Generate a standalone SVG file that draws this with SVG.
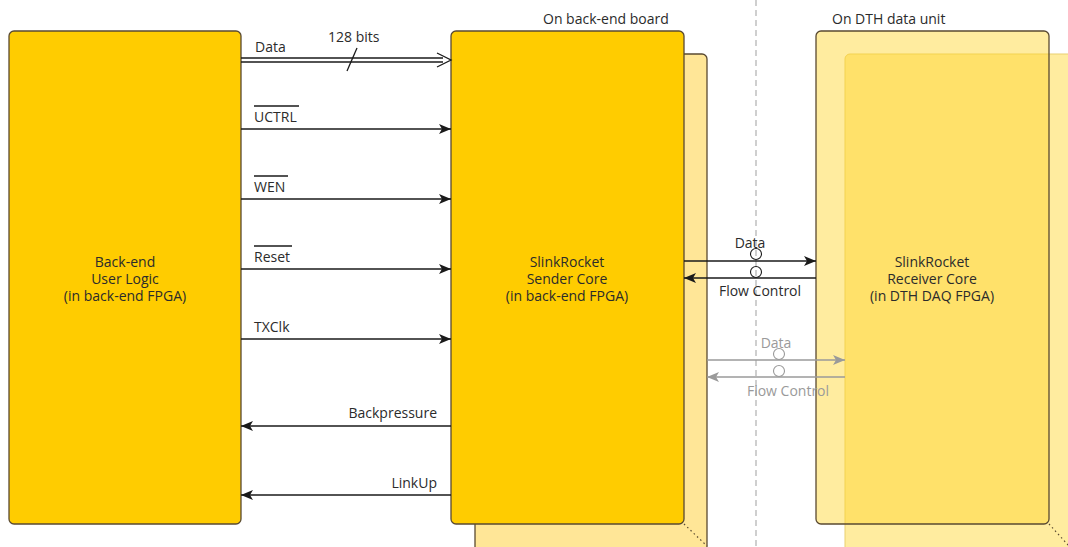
<svg xmlns="http://www.w3.org/2000/svg" width="1068" height="547" viewBox="0 0 1068 547">
<style>
text{font-family:"Open Sans","Noto Sans","DejaVu Sans",sans-serif;font-size:14px;fill:#2b2b2b}
.c{text-anchor:middle}
.r{text-anchor:end}
.g{fill:#9a9a9a}
.box{fill:#ffcc00;stroke:#5a4a32;stroke-width:1.3}
.back{fill:#ffe697;stroke:#5a4a32;stroke-width:1.3}
.tr{fill:#ffd42a;fill-opacity:0.45}
.ln{stroke:#1a1a1a;stroke-width:1.3;fill:none}
.gl{stroke:#9a9a9a;stroke-width:1.3;fill:none}
.dot{stroke:#5a4a32;stroke-width:1.2;stroke-dasharray:1.5 3;fill:none}
.ov{stroke:#1a1a1a;stroke-width:1.5}
</style>
<defs>
<marker id="ah" viewBox="0 0 12 10" refX="12" refY="5" markerWidth="12" markerHeight="10" markerUnits="userSpaceOnUse" orient="auto">
<path d="M0,0 L12,5 L0,10 L3,5 Z" fill="#1a1a1a"/>
</marker>
<marker id="ahg" viewBox="0 0 12 10" refX="12" refY="5" markerWidth="12" markerHeight="10" markerUnits="userSpaceOnUse" orient="auto">
<path d="M0,0 L12,5 L0,10 L3,5 Z" fill="#9a9a9a"/>
</marker>
</defs>

<line x1="756" y1="0" x2="756" y2="547" stroke="#b0b0b0" stroke-width="1.2" stroke-dasharray="6 4"/>

<text x="543" y="24">On back-end board</text>
<text x="832" y="24">On DTH data unit</text>

<g id="user-logic">
<rect class="box" x="9" y="31" width="232" height="493" rx="5"/>
<text class="c" x="125" y="267">Back-end</text>
<text class="c" x="125" y="284">User Logic</text>
<text class="c" x="125" y="301">(in back-end FPGA)</text>
</g>

<g id="sender-core">
<rect class="back" x="475" y="54" width="232" height="500" rx="5"/>
<line class="dot" x1="684" y1="524" x2="707" y2="546"/>
<rect class="box" x="451" y="31" width="233" height="493" rx="5"/>
<text class="c" x="567" y="267">SlinkRocket</text>
<text class="c" x="567" y="284">Sender Core</text>
<text class="c" x="567" y="301">(in back-end FPGA)</text>
</g>

<g id="receiver-core">
<rect class="tr" x="845" y="54" width="240" height="500" rx="5" stroke="#e9cf70" stroke-width="1"/>
<rect class="tr" x="816" y="31" width="233" height="493" rx="5" stroke="#5a4a32" stroke-width="1.3"/>
<line class="dot" x1="1049" y1="524" x2="1068" y2="545"/>
<text class="c" x="932" y="267">SlinkRocket</text>
<text class="c" x="932" y="284">Receiver Core</text>
<text class="c" x="932" y="301">(in DTH DAQ FPGA)</text>
</g>

<g id="connectors">
<line class="ln" x1="241" y1="58" x2="443" y2="58"/>
<line class="ln" x1="241" y1="62" x2="443" y2="62"/>
<path class="ln" d="M437,53 L451,60 L437,67" stroke-linejoin="miter"/>
<line class="ln" x1="347" y1="71" x2="357" y2="48"/>
<text x="255" y="52">Data</text>
<text x="328" y="42">128 bits</text>

<line class="ln" x1="241" y1="129" x2="451" y2="129" marker-end="url(#ah)"/>
<line class="ov" x1="254" y1="106" x2="299" y2="106"/>
<text x="254" y="122">UCTRL</text>

<line class="ln" x1="241" y1="199" x2="451" y2="199" marker-end="url(#ah)"/>
<line class="ov" x1="254" y1="176" x2="288" y2="176"/>
<text x="254" y="192">WEN</text>

<line class="ln" x1="241" y1="269" x2="451" y2="269" marker-end="url(#ah)"/>
<line class="ov" x1="254" y1="246" x2="292" y2="246"/>
<text x="254" y="262">Reset</text>

<line class="ln" x1="241" y1="339" x2="451" y2="339" marker-end="url(#ah)"/>
<text x="254" y="332">TXClk</text>

<line class="ln" x1="451" y1="426" x2="241" y2="426" marker-end="url(#ah)"/>
<text class="r" x="437" y="418">Backpressure</text>

<line class="ln" x1="451" y1="495" x2="241" y2="495" marker-end="url(#ah)"/>
<text class="r" x="437" y="488">LinkUp</text>

<line class="ln" x1="684" y1="261" x2="816" y2="261" marker-end="url(#ah)"/>
<line class="ln" x1="816" y1="278" x2="684" y2="278" marker-end="url(#ah)"/>
<circle cx="756" cy="254" r="5.5" fill="none" stroke="#1a1a1a" stroke-width="1.1"/>
<circle cx="756" cy="272" r="5.5" fill="none" stroke="#1a1a1a" stroke-width="1.1"/>
<text class="c" x="750" y="248">Data</text>
<text class="c" x="760" y="296">Flow Control</text>

<line class="gl" x1="707" y1="360" x2="845" y2="360" marker-end="url(#ahg)"/>
<line class="gl" x1="845" y1="377" x2="707" y2="377" marker-end="url(#ahg)"/>
<circle cx="779" cy="354" r="5.5" fill="none" stroke="#9a9a9a" stroke-width="1.1"/>
<circle cx="779" cy="371" r="5.5" fill="none" stroke="#9a9a9a" stroke-width="1.1"/>
<text class="c g" x="776" y="348">Data</text>
<text class="c g" x="788" y="396">Flow Control</text>
</g>
</svg>
